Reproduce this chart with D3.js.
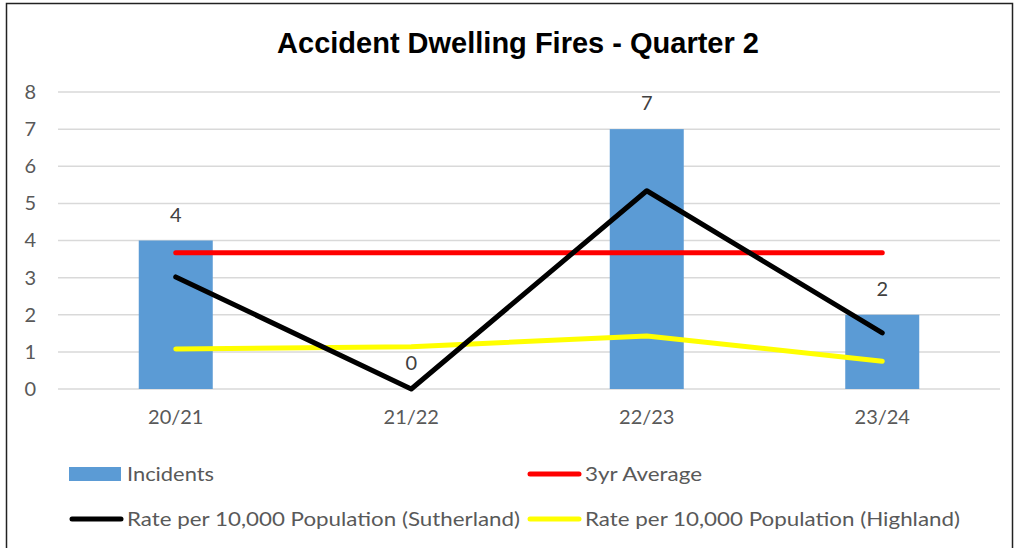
<!DOCTYPE html>
<html><head><meta charset="utf-8">
<script src="https://cdn.jsdelivr.net/npm/d3@7"></script>
<style>body{margin:0;background:#fff}svg{display:block}</style>
</head><body><svg id="c" width="1019" height="548"></svg>
<script>
const categories = ["20/21","21/22","22/23","23/24"];
const incidents = [4,0,7,2];
const avg3yr = [3.67,3.67,3.67,3.67];
const rateSutherland = [3.02,0,5.34,1.51];
const rateHighland = [1.08,1.14,1.43,0.75];
const yTicks = [0,1,2,3,4,5,6,7,8];
const title = "Accident Dwelling Fires - Quarter 2";

const svg = d3.select("#c");
const font = "Lato, 'Open Sans', sans-serif";
const grey = "#595959";

svg.append("rect").attr("x",6.5).attr("y",3.5).attr("width",1006).attr("height",560)
  .attr("fill","#fff").attr("stroke","#222").attr("stroke-width",1.5);

svg.append("text").attr("x",518).attr("y",53).attr("text-anchor","middle")
  .attr("font-family","'Liberation Sans', Arial, sans-serif").attr("font-weight","bold")
  .attr("font-size",29).attr("fill","#000").text(title);

const x = d3.scaleBand().domain(categories).range([58,1000]);
const y = d3.scaleLinear().domain([0,8]).range([389,92]);

// grid
svg.append("g").selectAll("line").data(yTicks).join("line")
  .attr("x1",58).attr("x2",1000).attr("y1",d=>y(d)).attr("y2",d=>y(d))
  .attr("stroke","#d9d9d9").attr("stroke-width",1.5);

// y axis labels
const yAxis = svg.append("g").attr("transform","translate(36,0)")
  .call(d3.axisLeft(y).tickValues(yTicks).tickSize(0).tickPadding(0));
yAxis.select(".domain").remove();
yAxis.selectAll("text").attr("font-family",font).attr("font-size",20).attr("fill",grey);

// x axis labels
const xAxis = svg.append("g").attr("transform","translate(0,406)")
  .call(d3.axisBottom(x).tickSize(0).tickPadding(4));
xAxis.select(".domain").remove();
xAxis.selectAll("text").attr("font-family",font).attr("font-size",20).attr("fill",grey);

// bars
const bw = 74;
svg.append("g").selectAll("rect").data(incidents).join("rect")
  .attr("x",(d,i)=>x(categories[i])+x.bandwidth()/2-bw/2)
  .attr("width",bw)
  .attr("y",d=>y(d)).attr("height",d=>y(0)-y(d))
  .attr("fill","#5b9bd5");

const line = d3.line().x((d,i)=>x(categories[i])+x.bandwidth()/2).y(d=>y(d));
function drawLine(data,color){
  svg.append("path").datum(data).attr("d",line).attr("fill","none")
    .attr("stroke",color).attr("stroke-width",5).attr("stroke-linecap","round").attr("stroke-linejoin","round");
}
drawLine(avg3yr,"#ff0000");
drawLine(rateHighland,"#ffff00");
drawLine(rateSutherland,"#000000");

// data labels
svg.append("g").selectAll("text").data(incidents).join("text")
  .attr("x",(d,i)=>x(categories[i])+x.bandwidth()/2)
  .attr("y",d=>y(d)-19)
  .attr("text-anchor","middle").attr("font-family",font).attr("font-size",20).attr("fill","#404040")
  .text(d=>d);

// legend
const legendItems = [
  {label:"Incidents", type:"rect", color:"#5b9bd5", lx:69, ly:474, w:87},
  {label:"3yr Average", type:"line", color:"#ff0000", lx:527, ly:474, w:117},
  {label:"Rate per 10,000 Population (Sutherland)", type:"line", color:"#000000", lx:69, ly:519, w:393},
  {label:"Rate per 10,000 Population (Highland)", type:"line", color:"#ffff00", lx:527, ly:519, w:375}
];
const lg = svg.append("g");
legendItems.forEach(it=>{
  if(it.type==="rect"){
    lg.append("rect").attr("x",it.lx).attr("y",it.ly-7).attr("width",52).attr("height",14).attr("fill",it.color);
  } else {
    lg.append("line").attr("x1",it.lx+3).attr("x2",it.lx+52).attr("y1",it.ly).attr("y2",it.ly)
      .attr("stroke",it.color).attr("stroke-width",5).attr("stroke-linecap","round");
  }
  lg.append("text").attr("x",it.lx+58).attr("y",it.ly+7).attr("font-family",font).attr("font-size",20)
    .attr("textLength",it.w).attr("lengthAdjust","spacingAndGlyphs")
    .attr("fill",grey).text(it.label);
});
</script></body></html>
